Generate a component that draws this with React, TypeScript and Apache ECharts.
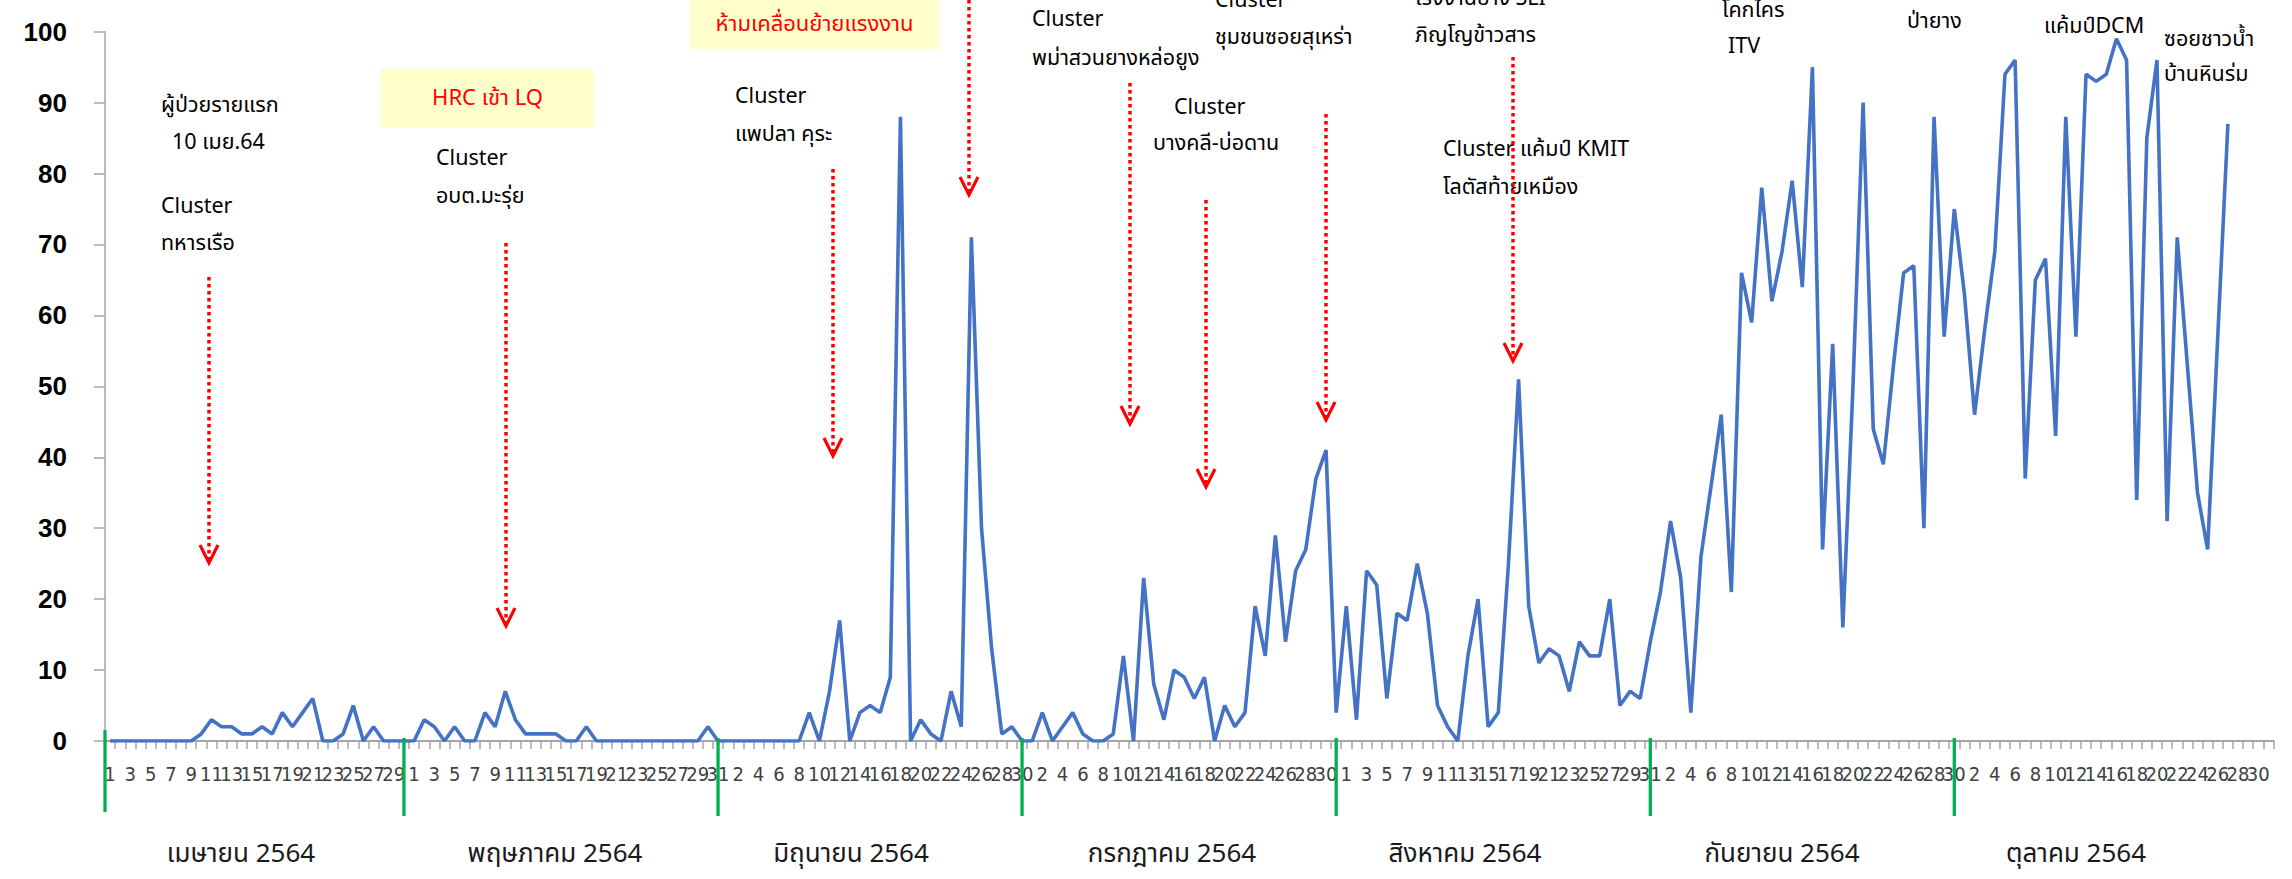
import React, { useEffect, useRef } from "react";
import * as echarts from "echarts";

// ---- data ----
const MONTH_NAMES = ["เมษายน 2564", "พฤษภาคม 2564", "มิถุนายน 2564", "กรกฎาคม 2564", "สิงหาคม 2564", "กันยายน 2564", "ตุลาคม 2564"];
const MONTH_DAYS = [30, 31, 30, 31, 31, 30, 31];

const APRIL = [0, 0, 0, 0, 0, 0, 0, 0, 0, 1, 3, 2, 2, 1, 1, 2, 1, 4, 2, 4, 6, 0, 0, 1, 5, 0, 2, 0, 0, 0];
const MAY = [0, 3, 2, 0, 2, 0, 0, 4, 2, 7, 3, 1, 1, 1, 1, 0, 0, 2, 0, 0, 0, 0, 0, 0, 0, 0, 0, 0, 0, 2, 0];
const JUNE = [0, 0, 0, 0, 0, 0, 0, 0, 4, 0, 7, 17, 0, 4, 5, 4, 9, 88, 0, 3, 1, 0, 7, 2, 71, 30, 13, 1, 2, 0];
const JULY = [0, 4, 0, 2, 4, 1, 0, 0, 1, 12, 0, 23, 8, 3, 10, 9, 6, 9, 0, 5, 2, 4, 19, 12, 29, 14, 24, 27, 37, 41, 4];
const AUGUST = [19, 3, 24, 22, 6, 18, 17, 25, 18, 5, 2, 0, 12, 20, 2, 4, 25, 51, 19, 11, 13, 12, 7, 14, 12, 12, 20, 5, 7, 6, 14];
const SEPTEMBER = [21, 31, 23, 4, 26, 36, 46, 21, 66, 59, 78, 62, 69, 79, 64, 95, 27, 56, 16, 50, 90, 44, 39, 53, 66, 67, 30, 88, 57, 75];
const OCTOBER = [63, 46, 58, 69, 94, 96, 37, 65, 68, 43, 88, 57, 94, 93, 94, 99, 96, 34, 85, 96, 31, 71, 53, 35, 27, 57, 87, null, null, null, null];

const Y_TICKS = { min: 0, max: 100, interval: 10 };

// ---- annotation texts (layout in page pixels) ----
const NOTES: { x: number; y: number; text: string; color?: string }[] = [
  { x: 161, y: 105, text: "ผู้ป่วยรายแรก" },
  { x: 172, y: 142, text: "10 เมย.64" },
  { x: 161, y: 206, text: "Cluster" },
  { x: 161, y: 243, text: "ทหารเรือ" },
  { x: 436, y: 158, text: "Cluster" },
  { x: 436, y: 196, text: "อบต.มะรุ่ย" },
  { x: 735, y: 96, text: "Cluster" },
  { x: 735, y: 134, text: "แพปลา คุระ" },
  { x: 1032, y: 19, text: "Cluster" },
  { x: 1032, y: 58, text: "พม่าสวนยางหล่อยูง" },
  { x: 1174, y: 107, text: "Cluster" },
  { x: 1153, y: 143, text: "บางคลี-บ่อดาน" },
  { x: 1215, y: 0, text: "Cluster" },
  { x: 1215, y: 37, text: "ชุมชนซอยสุเหร่า" },
  { x: 1415, y: -2, text: "โรงงานยาง SLI" },
  { x: 1415, y: 35, text: "ภิญโญข้าวสาร" },
  { x: 1443, y: 149, text: "Cluster แค้มป์ KMIT" },
  { x: 1443, y: 187, text: "โลตัสท้ายเหมือง" },
  { x: 1722, y: 10, text: "โคกไคร" },
  { x: 1728, y: 46, text: "ITV" },
  { x: 1907, y: 21, text: "ป่ายาง" },
  { x: 2044, y: 26, text: "แค้มป์DCM" },
  { x: 2164, y: 39, text: "ซอยชาวน้ำ" },
  { x: 2164, y: 74, text: "บ้านหินร่ม" },
];

const BOXES = [
  { x: 381, y: 69, w: 213, h: 59, text: "HRC เข้า LQ" },
  { x: 690, y: 0, w: 249, h: 49, text: "ห้ามเคลื่อนย้ายแรงงาน" },
];

const ARROWS = [
  { x: 209, y1: 277, y2: 563 },
  { x: 506, y1: 243, y2: 626 },
  { x: 969, y1: 0, y2: 195 },
  { x: 833, y1: 169, y2: 456 },
  { x: 1130, y1: 83, y2: 424 },
  { x: 1206, y1: 200, y2: 487 },
  { x: 1326, y1: 114, y2: 420 },
  { x: 1513, y1: 57, y2: 361 },
];

const MONTH_LABEL_X = [241, 555, 851, 1172, 1465, 1782, 2076];

const THAI_FONT = "Tahoma, 'Noto Sans Thai', 'Noto Sans', 'DejaVu Sans', sans-serif";

export default function App() {
  const ref = useRef<HTMLDivElement>(null);
  useEffect(() => {
    const el = ref.current!;
    const chart = echarts.init(el, null, { renderer: "svg" });

    const categories: string[] = [];
    MONTH_DAYS.forEach((n) => {
      for (let d = 1; d <= n; d++) categories.push(String(d));
    });
    const values = [...APRIL, ...MAY, ...JUNE, ...JULY, ...AUGUST, ...SEPTEMBER, ...OCTOBER];

    chart.setOption({
      animation: false,
      backgroundColor: "#ffffff",
      grid: { left: 105, right: 18.5, top: 31.7, bottom: 138 },
      xAxis: {
        type: "category",
        data: categories,
        boundaryGap: true,
        axisLine: { show: true, lineStyle: { color: "#a6a6a6", width: 2 } },
        axisTick: { show: true, interval: 0, length: 8, lineStyle: { color: "#a6a6a6", width: 1.5 } },
        axisLabel: {
          interval: 0,
          formatter: (value: string, index: number) => (index % 2 === 0 ? value : ""),
          margin: 23,
          fontSize: 20,
          color: "#404040",
          fontFamily: "'Liberation Sans Narrow', 'DejaVu Sans Condensed', 'Liberation Sans', sans-serif",
        },
        splitLine: { show: false },
      },
      yAxis: {
        type: "value",
        min: Y_TICKS.min,
        max: Y_TICKS.max,
        interval: Y_TICKS.interval,
        axisLine: { show: true, lineStyle: { color: "#a6a6a6", width: 1.5 } },
        axisTick: { show: true, length: 11, lineStyle: { color: "#a6a6a6", width: 1.5 } },
        axisLabel: {
          margin: 38,
          fontSize: 26,
          fontWeight: "bold",
          color: "#000000",
          fontFamily: "'Liberation Sans', Arial, sans-serif",
        },
        splitLine: { show: false },
      },
      series: [
        {
          type: "line",
          data: values,
          showSymbol: false,
          symbol: "none",
          connectNulls: false,
          lineStyle: { color: "#4472c4", width: 3.6 },
          itemStyle: { color: "#4472c4" },
        },
      ],
    });

    // decorations that depend on the axis scale
    const elements: any[] = [];

    // month divider lines (green)
    let cum = 0;
    const dividerIdx: number[] = [-0.5];
    MONTH_DAYS.slice(0, -1).forEach((n) => {
      cum += n;
      dividerIdx.push(cum - 1);
    });
    const step = (chart.convertToPixel({ xAxisIndex: 0 }, 1) as number) - (chart.convertToPixel({ xAxisIndex: 0 }, 0) as number);
    const x0 = chart.convertToPixel({ xAxisIndex: 0 }, 0) as number;
    dividerIdx.forEach((idx, i) => {
      const x = x0 + idx * step;
      elements.push({
        type: "line",
        shape: { x1: x, y1: i === 0 ? 730 : 738, x2: x, y2: i === 0 ? 812 : 816 },
        style: { stroke: "#00b050", lineWidth: 3.3 },
        z: 10,
      });
    });

    MONTH_NAMES.forEach((name, i) => {
      elements.push({
        type: "text",
        x: MONTH_LABEL_X[i],
        y: 854,
        style: { text: name, fill: "#1a1a1a", font: `26px ${THAI_FONT}`, align: "center", verticalAlign: "middle" },
      });
    });

    BOXES.forEach((b) => {
      elements.push({
        type: "rect",
        shape: { x: b.x, y: b.y, width: b.w, height: b.h },
        style: { fill: "#ffffcc" },
      });
      elements.push({
        type: "text",
        x: b.x + b.w / 2,
        y: b.y + b.h / 2,
        style: { text: b.text, fill: "#ff0000", font: `22px ${THAI_FONT}`, align: "center", verticalAlign: "middle" },
      });
    });

    NOTES.forEach((n) => {
      elements.push({
        type: "text",
        x: n.x,
        y: n.y,
        style: { text: n.text, fill: n.color || "#000000", font: `21.5px ${THAI_FONT}`, align: "left", verticalAlign: "middle" },
      });
    });

    ARROWS.forEach((a) => {
      elements.push({
        type: "line",
        shape: { x1: a.x, y1: a.y1, x2: a.x, y2: a.y2 - 3 },
        style: { stroke: "#ff0000", lineWidth: 3.5, lineDash: [3.5, 3.5] },
      });
      elements.push({
        type: "polyline",
        shape: { points: [[a.x - 9, a.y2 - 18], [a.x, a.y2], [a.x + 9, a.y2 - 18]] },
        style: { stroke: "#ff0000", lineWidth: 3.2, fill: "none" },
      });
    });

    chart.setOption({ graphic: { elements } });

    return () => chart.dispose();
  }, []);
  return (
    <div
      ref={ref}
      style={{ position: "absolute", left: 0, top: 0, width: 2292, height: 879, background: "#ffffff" }}
    />
  );
}
